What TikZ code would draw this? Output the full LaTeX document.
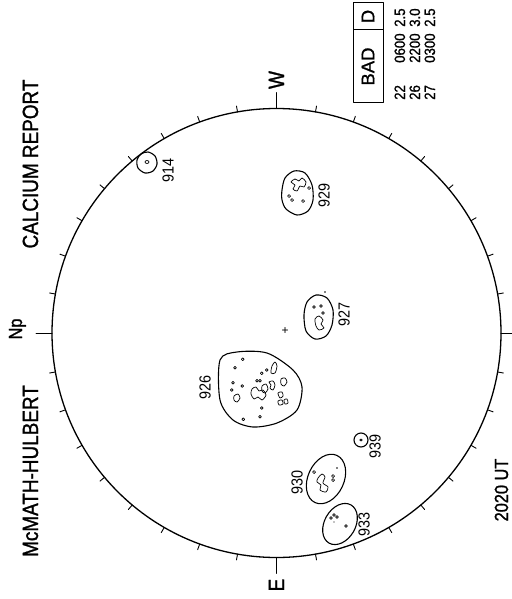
\documentclass[tikz,border=0pt]{standalone}
\usepackage{fontspec}
\setmainfont{Liberation Sans}
\newfontfamily\labfont[FakeStretch=0.86, FakeBold=1.2]{Liberation Sans}
\newfontfamily\boxfont[FakeBold=1]{Liberation Sans}
\newfontfamily\numfont[FakeStretch=0.88, FakeBold=0.8]{Liberation Sans}
\newfontfamily\handfont[FakeStretch=0.9]{Liberation Sans}
\begin{document}
\begin{tikzpicture}[x=1pt,y=-1pt,
  line cap=round, line join=round,
  limb/.style={line width=1.3pt},
  tick/.style={line width=0.9pt},
  grp/.style={line width=1.1pt},
  umbra/.style={line width=0.7pt},
  title/.style={rotate=90, inner sep=0, anchor=base, font=\labfont\fontsize{22}{22}\selectfont},
  hand/.style={rotate=90, inner sep=0, font=\handfont\fontsize{16}{16}\selectfont},
  datum/.style={rotate=90, inner sep=0, anchor=base west, font=\numfont\fontsize{15}{15}\selectfont},
  cell/.style={draw, line width=1pt, rotate=90, inner sep=0, minimum height=30pt, font=\boxfont\fontsize{18.5}{18.5}\selectfont},
]
\useasboundingbox (0,0) rectangle (511,599);
\fill[white] (0,0) rectangle (511,599);

% solar limb with 10-degree ticks
\coordinate (O) at (276.5,333);
\draw[limb] (O) circle (224.5);
\foreach \a in {0,10,...,350}
  \draw[tick] (O) ++(\a:224.5) -- ++(\a:6);
\foreach \a/\n in {0/r,90/e,180/l,270/w}
  {\path (O) ++(\a:224.5) coordinate (t\n);
   \draw[tick] (t\n) -- ++(\a:16) coordinate (k\n);}
% centre of disc
\node[inner sep=0, font=\fontsize{12}{12}\selectfont] (ctr) at (285,331) {+};

% headings
\node[title, font=\labfont\fontsize{19}{19}\selectfont] (np) at (22,329) {Np};
\node[title] (obs) at (38,471) {McMATH-HULBERT};
\node[title] (rep) at (38,164) {CALCIUM REPORT};
\node[title] (wl) at (284,80) {W};
\node[title] (el) at (284,585) {E};
\node[title, font=\labfont\fontsize{19}{19}\selectfont] (ut) at (508,490) {2020 UT};

% region table
\node[cell, minimum width=73pt] (bad) at (368,66.5) {BAD};
\node[cell, minimum width=27pt] (dd) at (368,16.5) {D};
\node[datum] (d1a) at (405,100) {22};
\node[datum] (d1b) at (405,63) {0600};
\node[datum] (d1c) at (405,27) {2.5};
\node[datum] (d2a) at (420,100) {26};
\node[datum] (d2b) at (420,63) {2200};
\node[datum] (d2c) at (420,27) {3.0};
\node[datum] (d3a) at (435,100) {27};
\node[datum] (d3b) at (435,63) {0300};
\node[datum] (d3c) at (435,27) {2.5};

% region 914
\draw[grp] plot[smooth cycle] coordinates {(137,160) (141,154) (148,152) (155,156) (157,164) (153,171) (145,173) (138,168)};
\draw[umbra] (147,162) ellipse (2 and 1.5);
\node[hand] (l914) at (168,170) {914};

% region 929
\draw[grp] plot[smooth cycle] coordinates {(282,190) (285,178) (294,171) (305,173) (312,185) (313,200) (308,211) (297,215) (286,209) (282,200)};
\draw[umbra] plot[smooth cycle] coordinates {(291,182) (295,179) (299,181) (302,178) (306,182) (304,187) (300,186) (297,191) (293,189) (295,185)};
\foreach \p in {(292,200),(303,201),(309,188),(289,196)} \draw[umbra] \p circle (1.5);
\node[hand] (l929) at (324,195) {929};

% region 927
\draw[grp] plot[smooth cycle] coordinates {(304,315) (307,302) (316,295) (327,298) (333,310) (332,325) (326,336) (315,339) (306,331)};
\foreach \p in {(314,307),(321,306),(323,313)} \draw[umbra] \p circle (1.3);
\draw[umbra] plot[smooth cycle] coordinates {(315,319) (319,316) (323,320) (321,324) (324,328) (319,330) (316,326)};
\fill (325,292) circle (0.8);
\node[hand] (l927) at (344,314) {927};

% region 926
\draw[grp] plot[smooth cycle] coordinates {(220,360) (237,352) (267,353) (293,370) (302,387) (297,410) (277,423) (253,427) (233,420) (220,400)};
\foreach \p in {(242.7,359.3),(235,367.7),(233,382.7),(242.3,386),(231.7,390),(243.3,419.3),(261.7,408),(260,416.7),(266.7,370),(261.7,373.3),(257,380.7),(260,380.7)}
  \draw[umbra] \p circle (1.4);
\draw[umbra] plot[smooth cycle] coordinates {(271,373) (272,366) (275,362) (277,366) (275,373)};
\draw[umbra] plot[smooth cycle] coordinates {(269,382) (273,381) (275,385) (273,390) (270,388) (271,385)};
\draw[umbra] plot[smooth cycle] coordinates {(281,379) (285,378) (287,382) (284,386) (281,384)};
\draw[umbra] plot[smooth cycle] coordinates {(234,396) (238,394) (240,398) (237,402) (234,400)};
\draw[umbra] plot[smooth cycle] coordinates {(252,389) (256,387) (259,391) (263,390) (266,395) (262,400) (258,397) (254,399) (251,394)};
\draw[umbra] plot[smooth cycle] coordinates {(262,386) (266,384) (268,389) (265,393) (262,391)};
\draw[umbra] plot[smooth cycle] coordinates {(278,393) (282,392) (283,396) (280,398)};
\draw[umbra] plot[smooth cycle] coordinates {(278,401) (282,400) (283,404) (279,405)};
\draw[umbra] plot[smooth cycle] coordinates {(284,400) (287,399) (288,403) (285,404)};
\node[hand] (l926) at (205,387) {926};

% region 939
\draw[grp] (361,440) circle (7);
\draw[umbra] (361,440) ellipse (1.3 and 1);
\node[hand] (l939) at (375,446) {939};

% region 930
\draw[grp, rotate around={-25:(326,479)}] (326,479) ellipse (18 and 26);
\draw[umbra] plot[smooth cycle] coordinates {(318,478) (322,474) (325,477) (323,483) (328,487) (326,492) (320,490) (321,485) (317,482)};
\foreach \p in {(314,472),(333,476),(333,480)} \draw[umbra] \p circle (1.5);
\fill (337,468) circle (0.8);
\node[hand] (l930) at (297,482) {930};

% region 933
\draw[grp, rotate around={-30:(340,524)}] (340,524) ellipse (15.5 and 22);
\foreach \p in {(331,518),(334,515),(337,517),(346,526)} \draw[umbra] \p circle (1.4);
\fill (334,522) circle (0.7);
\node[hand] (l933) at (364,524) {933};
\end{tikzpicture}
\end{document}
